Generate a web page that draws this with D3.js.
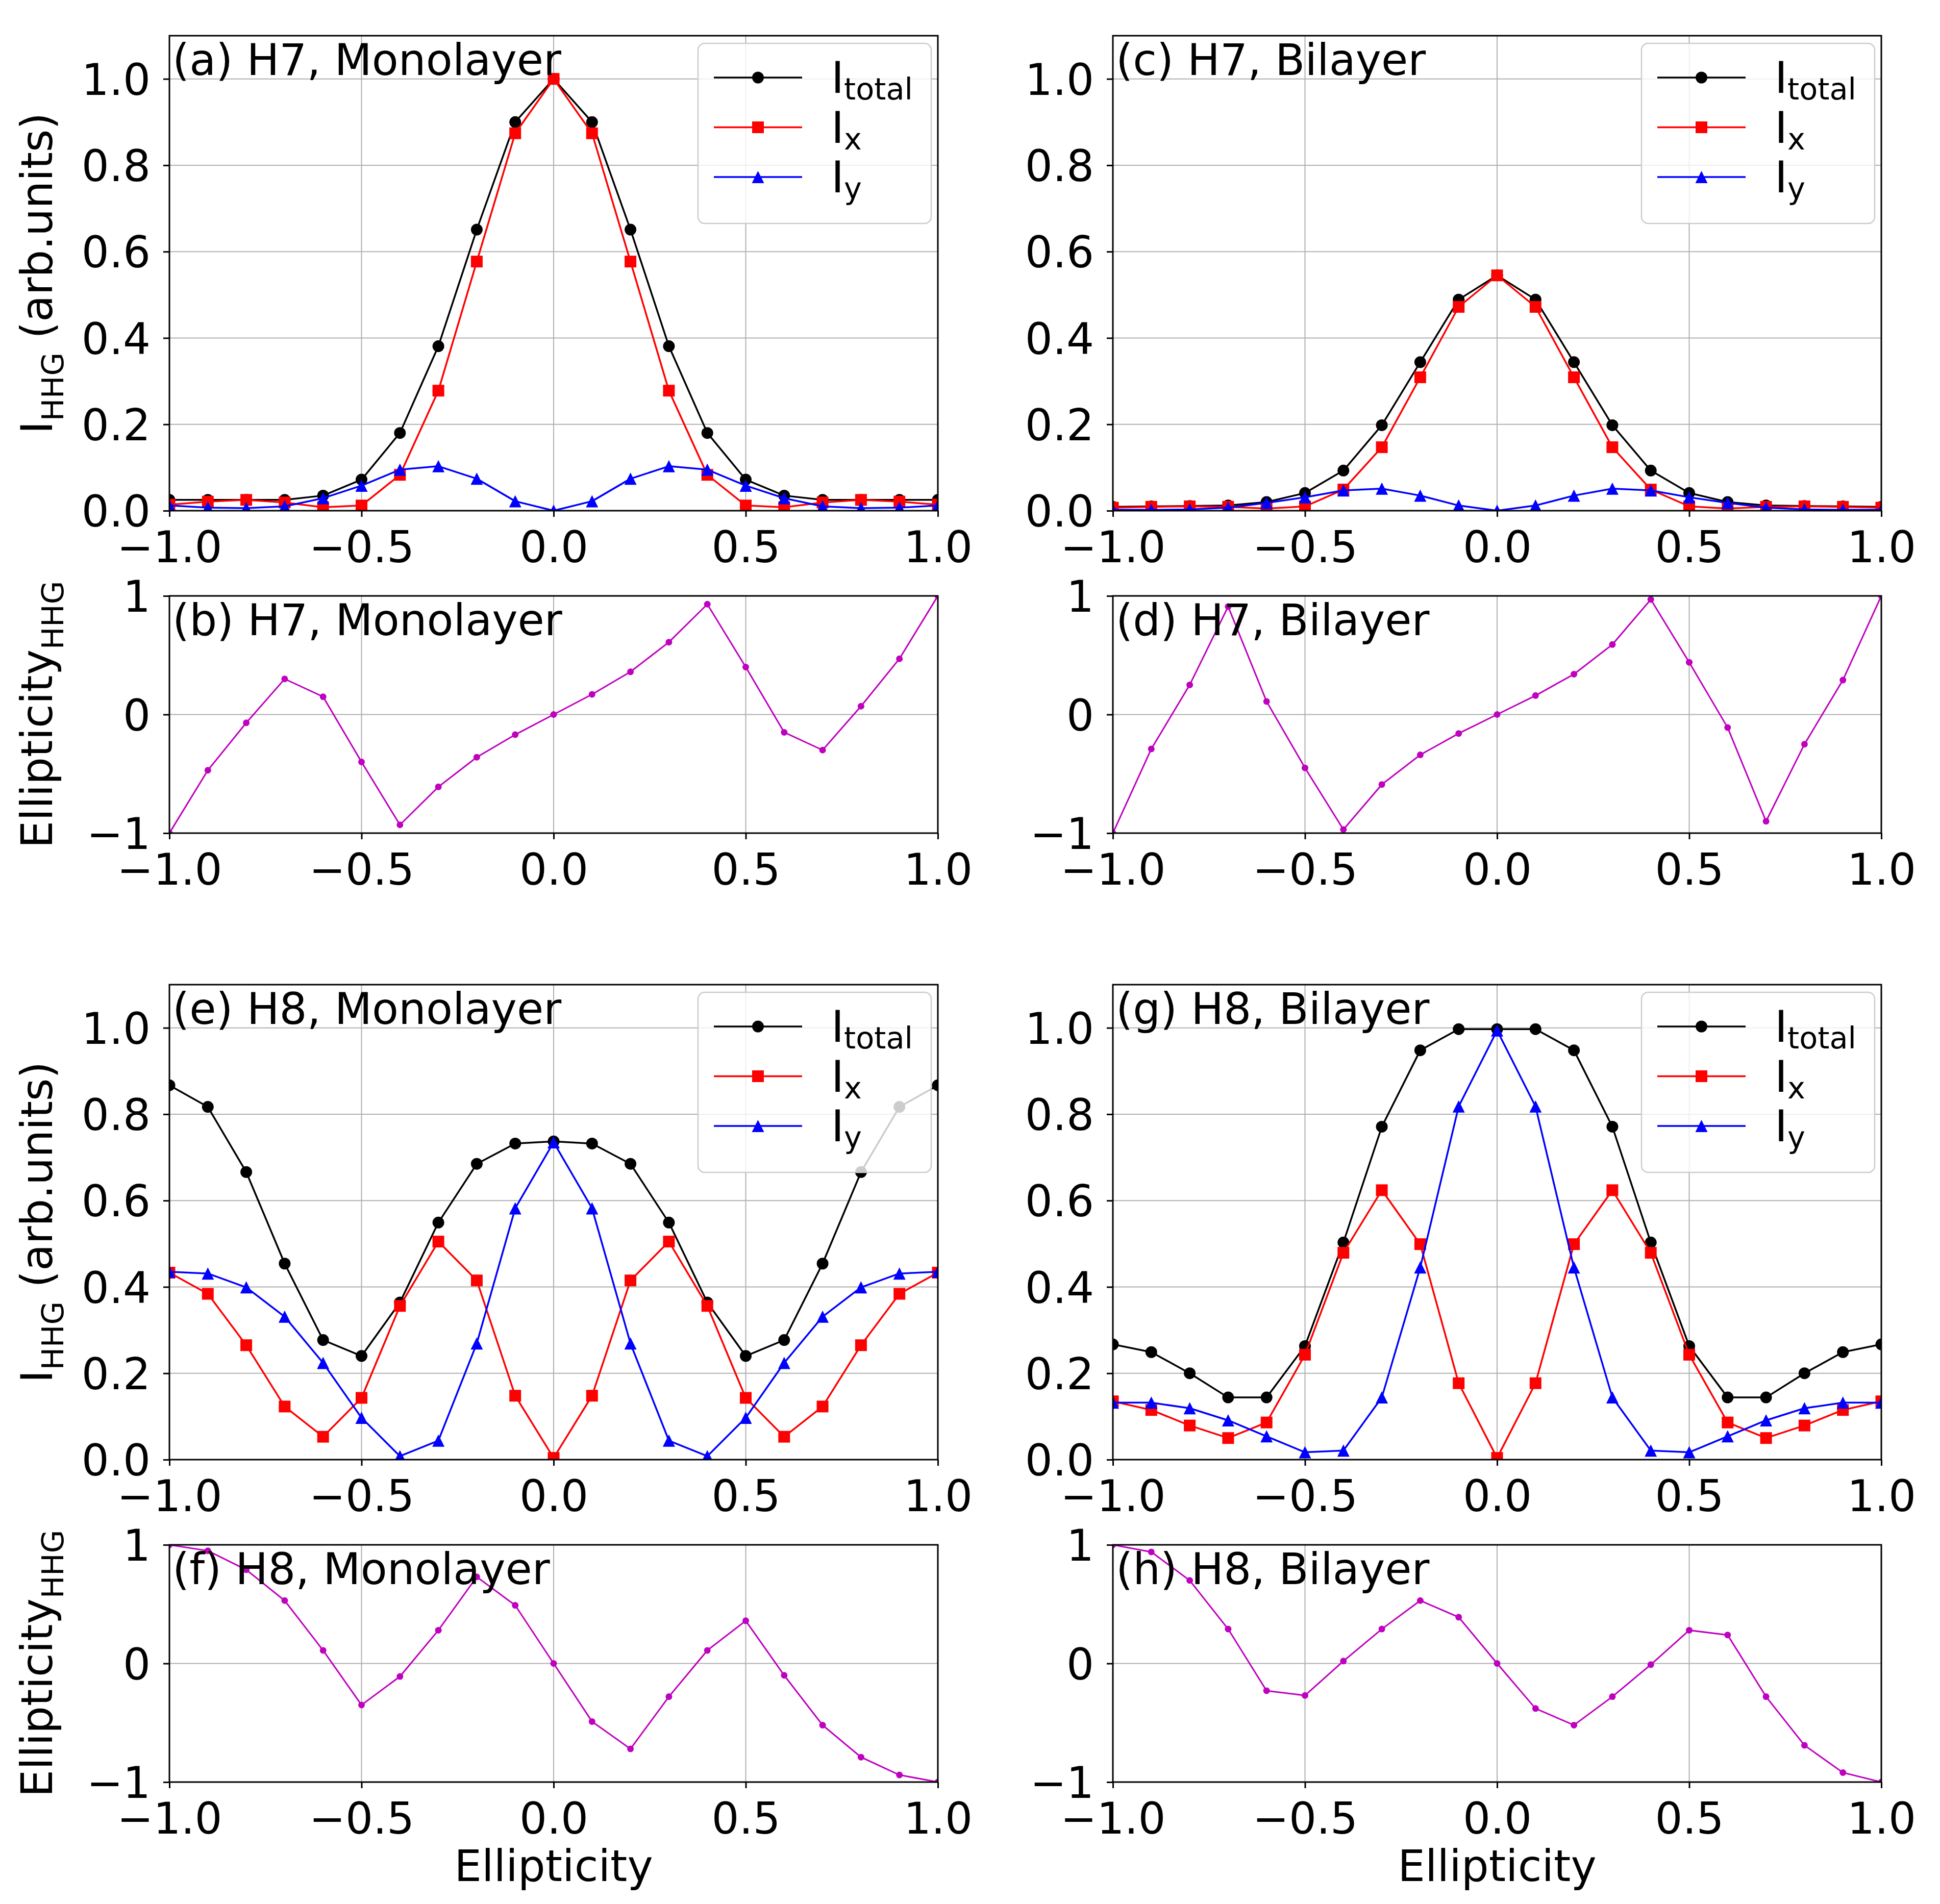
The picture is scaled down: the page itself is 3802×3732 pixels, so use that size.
<!DOCTYPE html>
<html>
<head>
<meta charset="utf-8">
<script src="https://d3js.org/d3.v7.min.js"></script>
<style>
  body { margin: 0; background: #fff; }
  text { font-family: "DejaVu Sans", sans-serif; fill: #000; }
</style>
</head>
<body>
<script>
// ---- data ----
var ellipticity = [-1.0,-0.9,-0.8,-0.7,-0.6,-0.5,-0.4,-0.3,-0.2,-0.1,0.0,0.1,0.2,0.3,0.4,0.5,0.6,0.7,0.8,0.9,1.0];

var h7MonoTotal = [0.025,0.025,0.025,0.025,0.035,0.072,0.180,0.381,0.651,0.900,1.000,0.900,0.651,0.381,0.180,0.072,0.035,0.025,0.025,0.025,0.025];
var h7MonoX     = [0.014,0.021,0.025,0.019,0.008,0.012,0.083,0.278,0.577,0.874,1.000,0.874,0.577,0.278,0.083,0.012,0.008,0.019,0.025,0.021,0.014];
var h7MonoY     = [0.012,0.007,0.006,0.010,0.029,0.058,0.095,0.103,0.074,0.022,0.000,0.022,0.074,0.103,0.095,0.058,0.029,0.010,0.006,0.007,0.012];
var h7MonoEll   = [-1.00,-0.47,-0.07,0.30,0.15,-0.40,-0.93,-0.61,-0.36,-0.17,0.00,0.17,0.36,0.61,0.93,0.40,-0.15,-0.30,0.07,0.47,1.00];

var h7BiTotal = [0.009,0.010,0.011,0.012,0.020,0.041,0.093,0.198,0.344,0.489,0.545,0.489,0.344,0.198,0.093,0.041,0.020,0.012,0.011,0.010,0.009];
var h7BiX     = [0.007,0.009,0.010,0.009,0.005,0.010,0.049,0.147,0.309,0.472,0.545,0.472,0.309,0.147,0.049,0.010,0.005,0.009,0.010,0.009,0.007];
var h7BiY     = [0.002,0.002,0.003,0.007,0.018,0.031,0.047,0.051,0.035,0.012,0.000,0.012,0.035,0.051,0.047,0.031,0.018,0.007,0.003,0.002,0.002];
var h7BiEll   = [-1.00,-0.29,0.25,0.91,0.11,-0.45,-0.97,-0.59,-0.34,-0.16,0.00,0.16,0.34,0.59,0.97,0.44,-0.11,-0.90,-0.25,0.29,1.00];

var h8MonoTotal = [0.867,0.817,0.666,0.454,0.277,0.240,0.364,0.549,0.685,0.732,0.737,0.732,0.685,0.549,0.364,0.240,0.277,0.454,0.666,0.817,0.867];
var h8MonoX     = [0.433,0.384,0.265,0.123,0.053,0.143,0.356,0.505,0.415,0.148,0.004,0.148,0.415,0.505,0.356,0.143,0.053,0.123,0.265,0.384,0.433];
var h8MonoY     = [0.435,0.431,0.399,0.331,0.224,0.097,0.008,0.044,0.269,0.582,0.735,0.582,0.269,0.044,0.008,0.097,0.224,0.331,0.399,0.431,0.435];
var h8MonoEll   = [1.00,0.95,0.79,0.53,0.11,-0.35,-0.11,0.28,0.73,0.49,0.00,-0.49,-0.72,-0.28,0.11,0.36,-0.10,-0.52,-0.79,-0.94,-1.00];

var h8BiTotal = [0.267,0.249,0.200,0.144,0.144,0.263,0.503,0.771,0.948,0.997,0.997,0.997,0.948,0.771,0.503,0.263,0.144,0.144,0.200,0.249,0.267];
var h8BiX     = [0.135,0.115,0.079,0.050,0.086,0.243,0.479,0.624,0.499,0.177,0.004,0.177,0.499,0.624,0.479,0.243,0.086,0.050,0.079,0.115,0.135];
var h8BiY     = [0.132,0.132,0.119,0.091,0.054,0.017,0.021,0.144,0.445,0.818,0.994,0.818,0.445,0.144,0.021,0.017,0.054,0.091,0.119,0.132,0.132];
var h8BiEll   = [1.00,0.94,0.70,0.29,-0.23,-0.27,0.02,0.29,0.53,0.39,0.00,-0.38,-0.52,-0.28,-0.01,0.28,0.24,-0.28,-0.69,-0.92,-1.00];

var xTicks = [-1.0,-0.5,0.0,0.5,1.0];
var intensityTicks = [0.0,0.2,0.4,0.6,0.8,1.0];
var ellTicks = [-1,0,1];

// ---- layout ----
var width = 3802, height = 3732;
var FS = 85, SUB = 59;
var colX = [332, 2181], plotW = 1506;
var topH = 931, botH = 465;

var svg = d3.select('body').append('svg')
    .attr('width', width)
    .attr('height', height);
svg.append('rect').attr('width', width).attr('height', height).attr('fill', '#fff');

var clipId = 0;

function frame(x0, y0, h, yDomain, yTickVals, yFmt) {
  var g = svg.append('g').attr('transform', 'translate(' + x0 + ',' + y0 + ')');
  var x = d3.scaleLinear().domain([-1, 1]).range([0, plotW]);
  var y = d3.scaleLinear().domain(yDomain).range([h, 0]);

  // grid
  g.append('g').selectAll('line').data(xTicks).join('line')
    .attr('x1', function(d) { return x(d); }).attr('x2', function(d) { return x(d); })
    .attr('y1', 0).attr('y2', h)
    .attr('stroke', '#b0b0b0').attr('stroke-width', 2);
  g.append('g').selectAll('line').data(yTickVals).join('line')
    .attr('y1', function(d) { return y(d); }).attr('y2', function(d) { return y(d); })
    .attr('x1', 0).attr('x2', plotW)
    .attr('stroke', '#b0b0b0').attr('stroke-width', 2);

  // axes
  var xa = g.append('g').attr('transform', 'translate(0,' + h + ')')
    .call(d3.axisBottom(x).tickValues(xTicks).tickFormat(d3.format('.1f')).tickSize(12).tickPadding(29));
  var ya = g.append('g')
    .call(d3.axisLeft(y).tickValues(yTickVals).tickFormat(yFmt).tickSize(12).tickPadding(25));
  [xa, ya].forEach(function(a) {
    a.select('.domain').remove();
    a.selectAll('line').attr('stroke', '#000').attr('stroke-width', 3);
    a.selectAll('text').attr('font-size', FS).attr('font-family', 'DejaVu Sans').attr('fill', '#000');
  });
  xa.selectAll('text').attr('dy', null).attr('y', 12 + 29 + 60);
  ya.selectAll('text').attr('dy', '0.36em');

  clipId++;
  g.append('clipPath').attr('id', 'clip' + clipId)
    .append('rect').attr('width', plotW).attr('height', h);
  var plot = g.append('g').attr('clip-path', 'url(#clip' + clipId + ')');

  return { g: g, plot: plot, x: x, y: y, h: h };
}

function spines(f) {
  f.g.append('rect').attr('width', plotW).attr('height', f.h)
    .attr('fill', 'none').attr('stroke', '#000').attr('stroke-width', 3);
}

function panelLabel(f, txt) {
  f.g.append('text').attr('x', 6).attr('y', 77)
    .attr('font-size', FS).text(txt);
}

var triPath = 'M0,-12L-12,12L12,12Z';

function series(f, vals, color, marker) {
  var pts = ellipticity.map(function(e, i) { return [e, vals[i]]; });
  var line = d3.line().x(function(d) { return f.x(d[0]); }).y(function(d) { return f.y(d[1]); });
  f.plot.append('path').datum(pts).attr('d', line)
    .attr('fill', 'none').attr('stroke', color).attr('stroke-width', 3.5)
    .attr('stroke-linejoin', 'round');
  var m = f.plot.append('g').selectAll('.m').data(pts).join(marker === 'circle' ? 'circle' : 'path')
    .attr('fill', color);
  if (marker === 'circle') {
    m.attr('cx', function(d) { return f.x(d[0]); }).attr('cy', function(d) { return f.y(d[1]); }).attr('r', 11.5);
  } else if (marker === 'square') {
    m.attr('d', 'M-11.5,-11.5H11.5V11.5H-11.5Z')
      .attr('transform', function(d) { return 'translate(' + f.x(d[0]) + ',' + f.y(d[1]) + ')'; });
  } else {
    m.attr('d', triPath)
      .attr('transform', function(d) { return 'translate(' + f.x(d[0]) + ',' + f.y(d[1]) + ')'; });
  }
}

function legend(f) {
  var lw = 457, lh = 353;
  var lg = f.g.append('g').attr('transform', 'translate(' + (plotW - 13 - lw) + ',15)');
  lg.append('rect').attr('width', lw).attr('height', lh).attr('rx', 13).attr('ry', 13)
    .attr('fill', '#fff').attr('fill-opacity', 0.8)
    .attr('stroke', '#cccccc').attr('stroke-width', 2.5);
  var items = [
    { c: '#000', m: 'circle', sub: 'total' },
    { c: '#ff0000', m: 'square', sub: 'x' },
    { c: '#0000ff', m: 'tri', sub: 'y' }
  ];
  items.forEach(function(it, i) {
    var cy = 67 + i * 97.5;
    lg.append('line').attr('x1', 31).attr('x2', 204).attr('y1', cy).attr('y2', cy)
      .attr('stroke', it.c).attr('stroke-width', 3.5);
    if (it.m === 'circle') lg.append('circle').attr('cx', 117.5).attr('cy', cy).attr('r', 11.5).attr('fill', it.c);
    else if (it.m === 'square') lg.append('rect').attr('x', 106).attr('y', cy - 11.5).attr('width', 23).attr('height', 23).attr('fill', it.c);
    else lg.append('path').attr('d', triPath).attr('transform', 'translate(117.5,' + cy + ')').attr('fill', it.c);
    var t = lg.append('text').attr('x', 261).attr('y', cy + 30).attr('font-size', FS);
    t.append('tspan').text('I');
    t.append('tspan').attr('font-size', SUB).attr('dy', 13).text(it.sub);
  });
}

function yLabel(cy, main) {
  var t = svg.append('text')
    .attr('transform', 'translate(102,' + cy + ') rotate(-90)')
    .attr('text-anchor', 'middle').attr('font-size', FS);
  if (main === 'I') {
    t.append('tspan').text('I');
    t.append('tspan').attr('font-size', SUB).attr('dy', 22).text('HHG');
    t.append('tspan').attr('dy', -22).text(' (arb.units)');
  } else {
    t.append('tspan').text('Ellipticity');
    t.append('tspan').attr('font-size', SUB).attr('dy', 22).text('HHG');
  }
}

function intensityPanel(col, top, label, total, ix, iy) {
  var f = frame(colX[col], top, topH, [0, 1.1], intensityTicks, d3.format('.1f'));
  series(f, total, '#000', 'circle');
  series(f, ix, '#ff0000', 'square');
  series(f, iy, '#0000ff', 'tri');
  spines(f);
  panelLabel(f, label);
  legend(f);
  if (col === 0) yLabel(top + topH / 2, 'I');
}

function ellPanel(col, top, label, vals, xlab) {
  var f = frame(colX[col], top, botH, [-1, 1], ellTicks, d3.format('d'));
  var pts = ellipticity.map(function(e, i) { return [e, vals[i]]; });
  var line = d3.line().x(function(d) { return f.x(d[0]); }).y(function(d) { return f.y(d[1]); });
  f.plot.append('path').datum(pts).attr('d', line)
    .attr('fill', 'none').attr('stroke', '#bf00bf').attr('stroke-width', 3);
  f.plot.append('g').selectAll('circle').data(pts).join('circle')
    .attr('cx', function(d) { return f.x(d[0]); }).attr('cy', function(d) { return f.y(d[1]); })
    .attr('r', 6.5).attr('fill', '#bf00bf');
  spines(f);
  panelLabel(f, label);
  if (col === 0) yLabel(top + botH / 2, 'E');
  if (xlab) {
    f.g.append('text').attr('x', plotW / 2).attr('y', botH + 194)
      .attr('text-anchor', 'middle').attr('font-size', FS).text('Ellipticity');
  }
}

intensityPanel(0, 70, '(a) H7, Monolayer', h7MonoTotal, h7MonoX, h7MonoY);
ellPanel(0, 1168, '(b) H7, Monolayer', h7MonoEll, false);
intensityPanel(1, 70, '(c) H7, Bilayer', h7BiTotal, h7BiX, h7BiY);
ellPanel(1, 1168, '(d) H7, Bilayer', h7BiEll, false);
intensityPanel(0, 1930, '(e) H8, Monolayer', h8MonoTotal, h8MonoX, h8MonoY);
ellPanel(0, 3028, '(f) H8, Monolayer', h8MonoEll, true);
intensityPanel(1, 1930, '(g) H8, Bilayer', h8BiTotal, h8BiX, h8BiY);
ellPanel(1, 3028, '(h) H8, Bilayer', h8BiEll, true);
</script>
</body>
</html>
